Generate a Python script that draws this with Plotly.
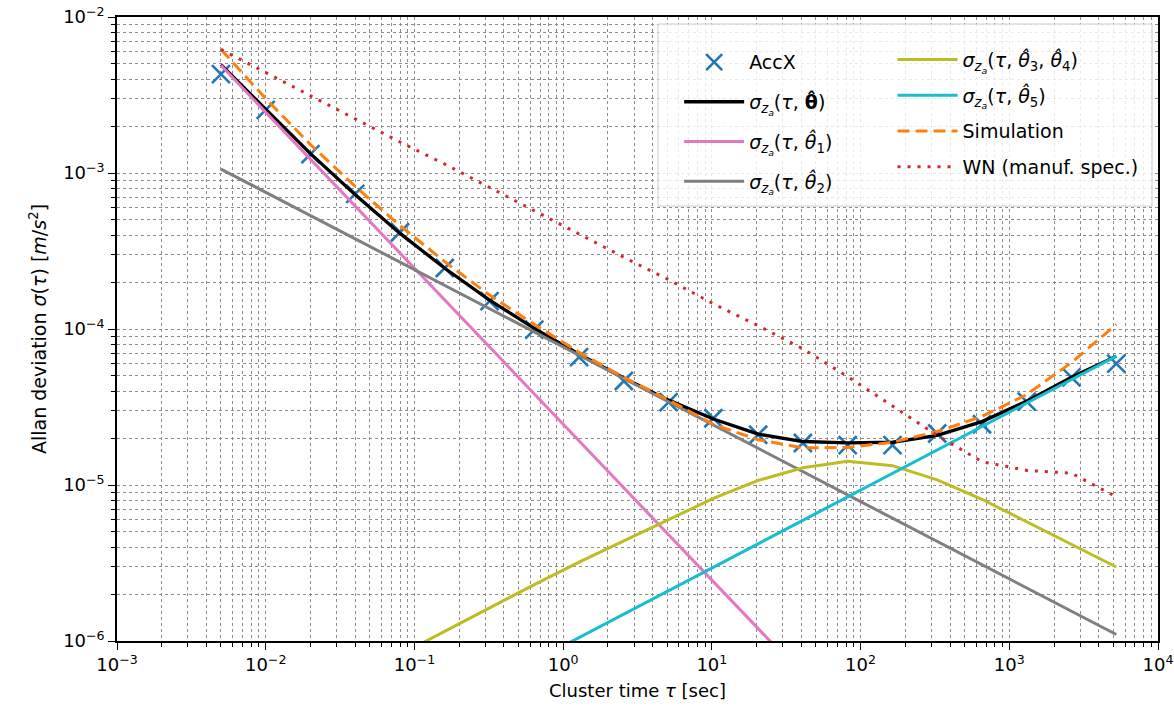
import plotly.graph_objects as go

# ---------------- data ----------------
tau = [0.005, 0.01, 0.02, 0.04, 0.08, 0.16, 0.32, 0.64, 1.28, 2.56, 5.12,
       10.24, 20.48, 40.96, 81.92, 163.84, 327.68, 655.36, 1310.72, 2621.44, 5242.88]

accx = [4.3e-3, 2.54e-3, 1.32e-3, 7.35e-4, 4.17e-4, 2.46e-4, 1.51e-4, 9.9e-5, 6.6e-5, 4.64e-5, 3.4e-5,
        2.68e-5, 2.1e-5, 1.86e-5, 1.8e-5, 1.8e-5, 2.14e-5, 2.45e-5, 3.42e-5, 4.9e-5, 6.0e-5]

fit_total = [4.95e-3, 2.56e-3, 1.33e-3, 7.25e-4, 4.1e-4, 2.45e-4, 1.53e-4, 1.01e-4, 6.9e-5, 4.85e-5, 3.5e-5,
             2.65e-5, 2.12e-5, 1.9e-5, 1.86e-5, 1.88e-5, 2.08e-5, 2.55e-5, 3.45e-5, 4.9e-5, 6.7e-5]

theta1_tau = [0.005, 40.96]
theta1 = [4.9e-3, 6.0e-7]

theta2_tau = [0.005, 5242.88]
theta2 = [1.06e-3, 1.1e-6]

theta34 = [2.0e-7, 2.9e-7, 4.1e-7, 5.8e-7, 8.2e-7, 1.16e-6, 1.63e-6, 2.3e-6, 3.2e-6, 4.4e-6, 6.0e-6,
           8.2e-6, 1.07e-5, 1.29e-5, 1.42e-5, 1.33e-5, 1.08e-5, 8.1e-6, 5.8e-6, 4.2e-6, 2.98e-6]

theta5_tau = [1.0, 5242.88]
theta5 = [9.3e-7, 6.7e-5]

simulation = [6.2e-3, 3.0e-3, 1.52e-3, 8.2e-4, 4.6e-4, 2.7e-4, 1.65e-4, 1.07e-4, 7.1e-5, 4.9e-5, 3.5e-5,
              2.45e-5, 1.95e-5, 1.73e-5, 1.74e-5, 1.88e-5, 2.2e-5, 2.75e-5, 3.8e-5, 6.1e-5, 1.07e-4]

wn_spec = [6.2e-3, 4.4e-3, 3.1e-3, 2.2e-3, 1.58e-3, 1.14e-3, 8.1e-4, 5.7e-4, 4.05e-4, 2.88e-4, 2.07e-4,
           1.45e-4, 1.05e-4, 7.46e-5, 4.95e-5, 3.2e-5, 2.08e-5, 1.41e-5, 1.24e-5, 1.19e-5, 8.4e-6]

x_major = [1e-3, 1e-2, 1e-1, 1e0, 1e1, 1e2, 1e3, 1e4]
x_major_text = ["10<sup>−3</sup>", "10<sup>−2</sup>", "10<sup>−1</sup>", "10<sup>0</sup>",
                "10<sup>1</sup>", "10<sup>2</sup>", "10<sup>3</sup>", "10<sup>4</sup>"]
y_major = [1e-6, 1e-5, 1e-4, 1e-3, 1e-2]
y_major_text = ["10<sup>−6</sup>", "10<sup>−5</sup>", "10<sup>−4</sup>", "10<sup>−3</sup>", "10<sup>−2</sup>"]

x_minor = [m * 10.0 ** e for e in range(-3, 4) for m in range(2, 10)]
y_minor = [m * 10.0 ** e for e in range(-6, -2) for m in range(2, 10)]

# ---------------- labels ----------------
SIG = "<i>σ<sub>z<sub>a</sub></sub></i>"
lab_total = SIG + "(<i>τ</i>, <b>θ̂</b>)"
lab_t1 = SIG + "(<i>τ</i>, <i>θ̂</i><sub>1</sub>)"
lab_t2 = SIG + "(<i>τ</i>, <i>θ̂</i><sub>2</sub>)"
lab_t34 = SIG + "(<i>τ</i>, <i>θ̂</i><sub>3</sub>, <i>θ̂</i><sub>4</sub>)"
lab_t5 = SIG + "(<i>τ</i>, <i>θ̂</i><sub>5</sub>)"

FONT = "DejaVu Sans"
LW = 3

fig = go.Figure()

fig.add_trace(go.Scatter(x=tau, y=accx, mode="markers", name="AccX",
                         marker=dict(symbol="x-thin", size=18, line=dict(width=2.6, color="#1f77b4")),
                         legend="legend", legendgroup="a"))
fig.add_trace(go.Scatter(x=tau, y=fit_total, mode="lines", name=lab_total,
                         line=dict(color="black", width=3.3), legend="legend", legendgroup="b"))
fig.add_trace(go.Scatter(x=theta1_tau, y=theta1, mode="lines", name=lab_t1,
                         line=dict(color="#e377c2", width=LW), legend="legend", legendgroup="c"))
fig.add_trace(go.Scatter(x=theta2_tau, y=theta2, mode="lines", name=lab_t2,
                         line=dict(color="#7f7f7f", width=LW), legend="legend", legendgroup="d"))
fig.add_trace(go.Scatter(x=tau, y=theta34, mode="lines", name=lab_t34,
                         line=dict(color="#bcbd22", width=LW), legend="legend2", legendgroup="e"))
fig.add_trace(go.Scatter(x=theta5_tau, y=theta5, mode="lines", name=lab_t5,
                         line=dict(color="#17becf", width=LW), legend="legend2", legendgroup="f"))
fig.add_trace(go.Scatter(x=tau, y=simulation, mode="lines", name="Simulation",
                         line=dict(color="#ff7f0e", width=LW, dash="12px,6px"),
                         legend="legend2", legendgroup="g"))
fig.add_trace(go.Scatter(x=tau, y=wn_spec, mode="lines", name="WN (manuf. spec.)",
                         line=dict(color="#d62728", width=LW, dash="3px,7px"),
                         legend="legend2", legendgroup="h"))

grid_style = dict(showgrid=True, gridcolor="#8c8c8c", gridwidth=1, griddash="dot")

fig.update_xaxes(type="log", range=[-3, 4], tickmode="array", tickvals=x_major, ticktext=x_major_text,
                 ticks="outside", ticklen=7, tickwidth=1.2, tickcolor="black",
                 showline=True, linecolor="black", linewidth=1.5, mirror=True, automargin=False,
                 minor=dict(tickmode="array", tickvals=x_minor, ticks="outside", ticklen=4,
                            tickwidth=1, tickcolor="black", **grid_style),
                 tickfont=dict(family=FONT, size=18, color="black"),
                 title=dict(text="Cluster time <i>τ</i> [sec]", font=dict(family=FONT, size=18, color="black"),
                            standoff=10),
                 zeroline=False, **grid_style)
fig.update_yaxes(type="log", range=[-6, -2], tickmode="array", tickvals=y_major, ticktext=y_major_text,
                 ticks="outside", ticklen=7, tickwidth=1.2, tickcolor="black",
                 showline=True, linecolor="black", linewidth=1.5, mirror=True, automargin=False,
                 minor=dict(tickmode="array", tickvals=y_minor, ticks="outside", ticklen=4,
                            tickwidth=1, tickcolor="black", **grid_style),
                 tickfont=dict(family=FONT, size=18, color="black"),
                 title=dict(text="Allan deviation <i>σ</i>(<i>τ</i>) [<i>m</i>/<i>s</i><sup>2</sup>]",
                            font=dict(family=FONT, size=19, color="black"), standoff=12),
                 zeroline=False, **grid_style)

legend_common = dict(bgcolor="rgba(0,0,0,0)", borderwidth=0, font=dict(family=FONT, size=19, color="black"),
                     xanchor="left", yanchor="top", itemwidth=60, orientation="v")

fig.update_layout(
    width=1174, height=711,
    margin=dict(l=117, r=16, t=17, b=70, autoexpand=False),
    plot_bgcolor="white", paper_bgcolor="white",
    font=dict(family=FONT, size=17, color="black"),
    legend=dict(x=0.54, y=0.958, tracegroupgap=12, **legend_common),
    legend2=dict(x=0.745, y=0.962, tracegroupgap=8, **legend_common),
    shapes=[dict(type="rect", xref="paper", yref="paper", x0=0.5197, x1=0.9943, y0=0.697, y1=0.9888,
                 fillcolor="rgba(255,255,255,0.82)", line=dict(color="#cccccc", width=1), layer="above")],
)

fig.write_html("out.html")
